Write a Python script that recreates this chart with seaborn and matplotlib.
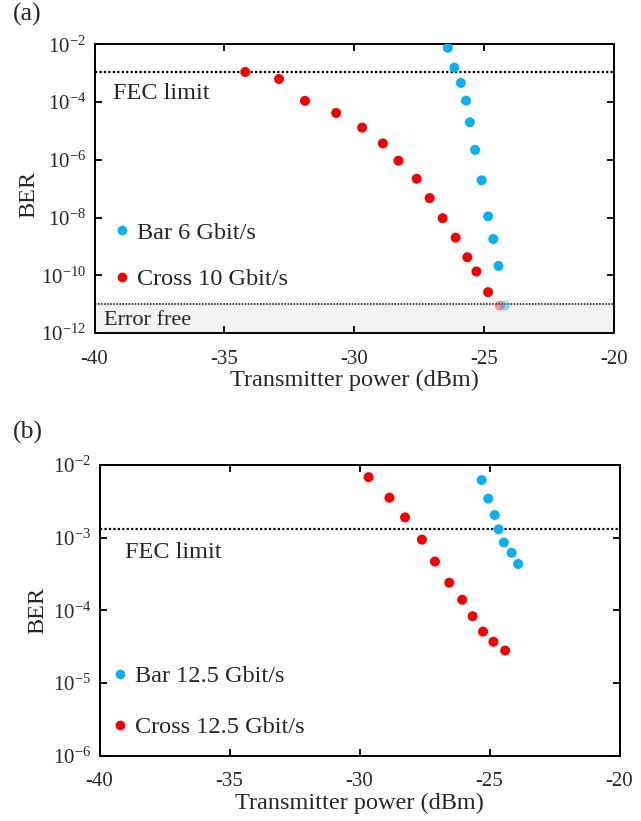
import numpy as np
import pandas as pd
import matplotlib
matplotlib.use("Agg")
import matplotlib.pyplot as plt
from matplotlib.ticker import FuncFormatter, NullLocator
from matplotlib.lines import Line2D
import seaborn as sns

# ---- data -------------------------------------------------------------
# (a) bar port at 6 Gbit/s, cross port at 10 Gbit/s
bar_a_power = [-26.4, -26.15, -25.9, -25.7, -25.55, -25.35, -25.1, -24.85, -24.65, -24.45]
bar_a_ber = [7.6e-3, 1.55e-3, 4.6e-4, 1.12e-4, 2.0e-5, 2.2e-6, 1.95e-7, 1.1e-8, 1.8e-9, 2.1e-10]
cross_a_power = [-34.2, -32.9, -31.9, -30.7, -29.7, -28.9, -28.3, -27.6, -27.1, -26.6,
                 -26.1, -25.65, -25.3, -24.85]
cross_a_ber = [1.1e-3, 6.3e-4, 1.1e-4, 4.2e-5, 1.3e-5, 3.7e-6, 9.3e-7, 2.2e-7, 4.7e-8, 9.5e-9,
               2.0e-9, 4.2e-10, 1.35e-10, 2.6e-11]
# error-free points (no errors counted), drawn faded at the bottom
errfree_power = [-24.4, -24.2]
errfree_ber = [8.9e-12, 8.9e-12]

# (b) both ports at 12.5 Gbit/s
bar_b_power = [-25.3, -25.05, -24.8, -24.65, -24.45, -24.15, -23.9]
bar_b_ber = [6.2e-3, 3.45e-3, 2.05e-3, 1.3e-3, 8.6e-4, 6.2e-4, 4.35e-4]
cross_b_power = [-29.65, -28.85, -28.25, -27.6, -27.1, -26.55, -26.05, -25.65, -25.25,
                 -24.85, -24.4]
cross_b_ber = [6.8e-3, 3.55e-3, 1.9e-3, 9.4e-4, 4.7e-4, 2.4e-4, 1.4e-4, 8.3e-5, 5.1e-5,
               3.7e-5, 2.8e-5]

fec_a = 1.07e-3
fec_b = 1.32e-3
error_free_level = 1e-11

labels_a = ["Bar 6 Gbit/s", "Cross 10 Gbit/s"]
labels_b = ["Bar 12.5 Gbit/s", "Cross 12.5 Gbit/s"]
x_ticks = [-40, -35, -30, -25, -20]
y_ticks_a = [1e-12, 1e-10, 1e-8, 1e-6, 1e-4, 1e-2]
y_ticks_b = [1e-6, 1e-5, 1e-4, 1e-3, 1e-2]

BLUE = "#0bb0ee"
RED = "#f50000"
DOT = 52

# ---- style ------------------------------------------------------------
sns.set_theme(style="ticks")
plt.rcParams["font.family"] = ["Liberation Serif", "DejaVu Serif"]
plt.rcParams["mathtext.fontset"] = "custom"
plt.rcParams["mathtext.rm"] = "Liberation Serif"
plt.rcParams["mathtext.it"] = "Liberation Serif:italic"
plt.rcParams["axes.unicode_minus"] = False

fig = plt.figure(figsize=(6.41, 8.21), dpi=100)
ax_a = fig.add_axes([0.1476, 0.5944, 0.8104, 0.3516])
ax_b = fig.add_axes([0.1554, 0.0795, 0.8111, 0.3541])


def frame(xs_bar, ys_bar, xs_cross, ys_cross, lab):
    return pd.DataFrame({
        "power": list(xs_bar) + list(xs_cross),
        "ber": list(ys_bar) + list(ys_cross),
        "series": [lab[0]] * len(xs_bar) + [lab[1]] * len(xs_cross),
    })


def pow_fmt(v, _):
    e = int(round(np.log10(v)))
    return r"$\mathregular{10^{%d}}$" % e


def style_axes(ax, yticks, ylim):
    ax.set_yscale("log")
    ax.set_xlim(-40, -20)
    ax.set_ylim(*ylim)
    ax.set_xticks(x_ticks)
    ax.set_yticks(yticks)
    ax.yaxis.set_major_formatter(FuncFormatter(pow_fmt))
    ax.yaxis.set_minor_locator(NullLocator())
    ax.xaxis.set_minor_locator(NullLocator())
    ax.tick_params(direction="in", top=True, right=True, length=5, width=1.3,
                   labelsize=15, color="black")
    ax.tick_params(axis="x", pad=12)
    ax.tick_params(axis="y", pad=6)
    for s in ax.spines.values():
        s.set_linewidth(1.4)
        s.set_color("black")
    ax.set_xlabel("Transmitter power (dBm)", fontsize=17.5, labelpad=1)
    ax.set_ylabel("BER", fontsize=17.5)
    ax.grid(False)


def add_legend(ax, labels, anchor, spacing):
    handles = [Line2D([], [], ls="none", marker="o", markersize=7,
                      markerfacecolor=c, markeredgecolor="none") for c in (BLUE, RED)]
    ax.legend(handles, labels, loc="center left", bbox_to_anchor=anchor,
              frameon=False, fontsize=17.5, handlelength=0.5, handletextpad=0.35,
              labelspacing=spacing, borderpad=0, borderaxespad=0)


# ---- panel (a) ----------------------------------------------------------
df_a = frame(bar_a_power, bar_a_ber, cross_a_power, cross_a_ber, labels_a)
ax_a.axhspan(1e-12, error_free_level, color="#f2f2f2", zorder=0)
sns.scatterplot(data=df_a, x="power", y="ber", hue="series", hue_order=labels_a,
                palette=[BLUE, RED], s=DOT, linewidth=0, legend=False, ax=ax_a, zorder=3)
sns.scatterplot(x=errfree_power, y=errfree_ber, hue=["c", "b"], palette=[RED, BLUE],
                s=DOT, linewidth=0, alpha=0.4, legend=False, ax=ax_a, zorder=3)
ax_a.axhline(fec_a, color="black", ls=(0, (1, 1)), lw=1.6, zorder=2)
ax_a.axhline(error_free_level, color="black", ls=(0, (1, 1)), lw=1.1, zorder=2)
style_axes(ax_a, y_ticks_a, (1e-12, 1e-2))
ax_a.yaxis.set_label_coords(-0.107, 0.48)
ax_a.text(0.036, 0.83, "FEC limit", transform=ax_a.transAxes, fontsize=17.5,
          va="center", ha="left")
ax_a.text(0.019, 0.043, "Error free", transform=ax_a.transAxes, fontsize=16,
          va="center", ha="left")
add_legend(ax_a, labels_a, (0.0415, 0.2665), 1.0)
fig.text(0.02, 0.982, "(a)", fontsize=18.5, va="center", ha="left")

# ---- panel (b) ----------------------------------------------------------
df_b = frame(bar_b_power, bar_b_ber, cross_b_power, cross_b_ber, labels_b)
sns.scatterplot(data=df_b, x="power", y="ber", hue="series", hue_order=labels_b,
                palette=[BLUE, RED], s=DOT, linewidth=0, legend=False, ax=ax_b, zorder=3)
ax_b.axhline(fec_b, color="black", ls=(0, (1, 1)), lw=1.6, zorder=2)
style_axes(ax_b, y_ticks_b, (1e-6, 1e-2))
ax_b.yaxis.set_label_coords(-0.099, 0.5)
ax_b.text(0.048, 0.698, "FEC limit", transform=ax_b.transAxes, fontsize=17.5,
          va="center", ha="left")
add_legend(ax_b, labels_b, (0.0275, 0.1855), 1.2)
fig.text(0.02, 0.473, "(b)", fontsize=18.5, va="center", ha="left")

fig.savefig("out.png", dpi=100)
